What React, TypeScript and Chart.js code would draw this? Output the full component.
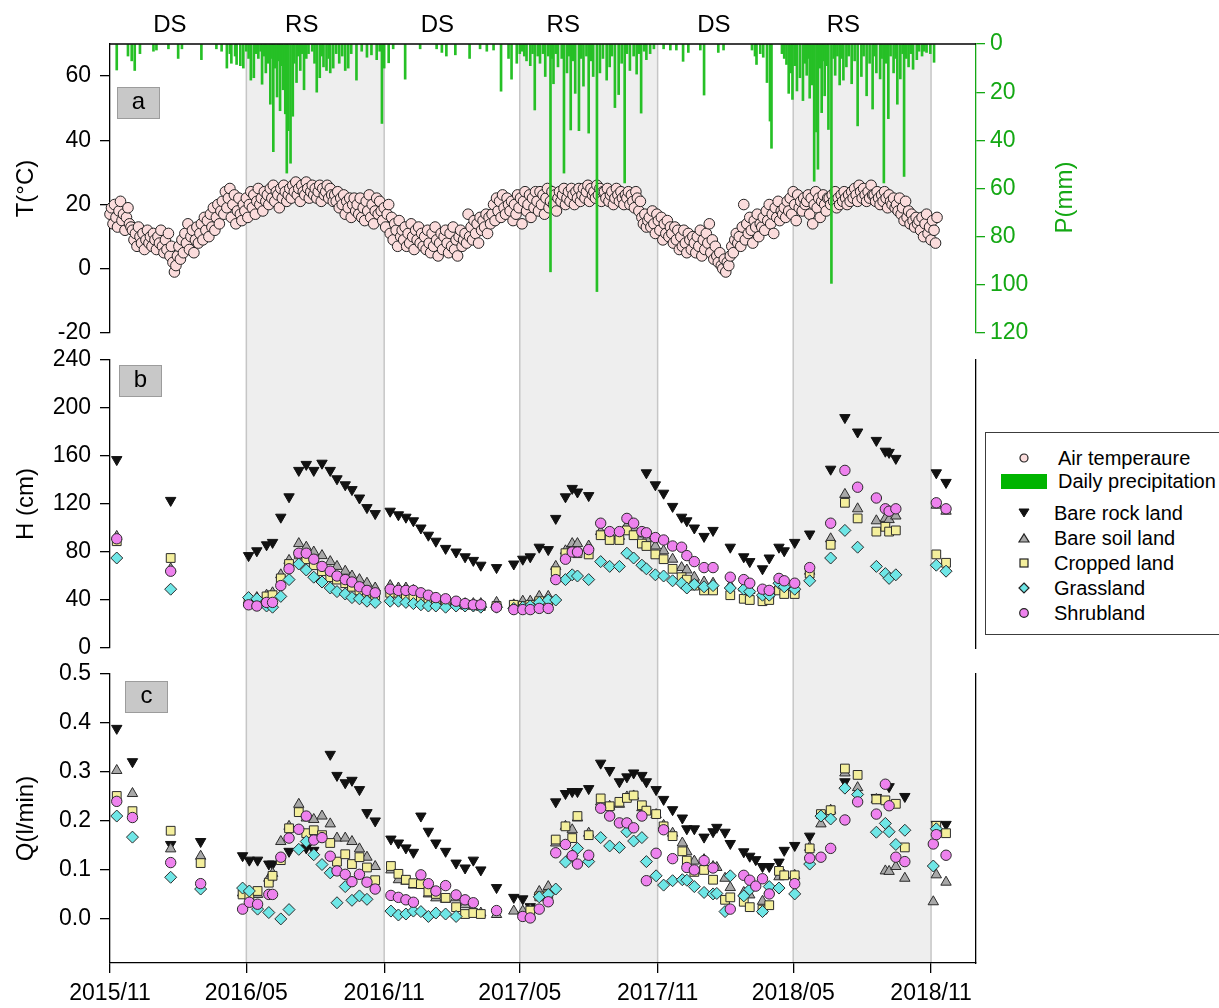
import React, { useEffect, useRef } from "react";
import { Chart, registerables } from "chart.js";

Chart.register(...registerables);

const FONT = "Arial, 'Liberation Sans', Helvetica, sans-serif";

// x values are days counted from 2015-11-01
const xTickDays = [0, 182, 366, 547, 731, 912, 1096];
const xTickLabels = ["2015/11", "2016/05", "2016/11", "2017/05", "2017/11", "2018/05", "2018/11"];
const xMaxDay = 1156;
const rainySeasonSpans: [number, number][] = [[182, 366], [547, 731], [912, 1096]];
const seasonBoundaryDays = [182, 366, 547, 731, 912, 1096];
const seasonLabels = ["DS", "RS", "DS", "RS", "DS", "RS"];
const seasonLabelDays = [80, 256, 437, 605, 806, 979];

const tTicks = [-20, 0, 20, 40, 60];
const pTicks = [0, 20, 40, 60, 80, 100, 120];
const hTicks = [0, 40, 80, 120, 160, 200, 240];
const qTicks = [0, 0.1, 0.2, 0.3, 0.4, 0.5];

// Air temperature (°C), one reading every 2 days from day 0 (each row = 30 days)
const tempStartDay = 0;
const tempStepDays = 2;
const airTemp = [
  17, 19, 14, 20, 16, 13, 18, 21, 15, 17, 12, 16, 19, 14, 13,
  12, 9, 11, 7, 13, 10, 8, 11, 6, 9, 12, 8, 10, 7, 11,
  9, 6, 10, 8, 12, 7, 5, 9, 6, 11, 4, 7, 2, -1, 1,
  4, 7, 3, 9, 5, 11, 8, 14, 6, 10, 12, 5, 9, 13, 8,
  11, 14, 9, 16, 12, 15, 10, 17, 13, 19, 12, 16, 20, 14, 18,
  21, 17, 24, 19, 22, 25, 16, 20, 23, 14, 18, 22, 17, 15, 20,
  18, 22, 16, 20, 24, 19, 23, 17, 21, 25, 20, 22, 18, 24, 21,
  23, 20, 25, 22, 26, 21, 24, 23, 19, 25, 22, 26, 24, 21, 23,
  25, 22, 26, 24, 27, 23, 25, 21, 26, 24, 23, 27, 25, 22, 24,
  26, 23, 25, 22, 24, 26, 21, 25, 23, 24, 26, 22, 25, 23, 21,
  23, 21, 24, 19, 22, 20, 23, 17, 21, 19, 22, 16, 20, 22, 18,
  20, 17, 22, 16, 19, 15, 21, 18, 23, 16, 20, 14, 18, 22, 17,
  21, 18, 15, 19, 13, 17, 20, 11, 16, 9, 14, 12, 7, 15, 10,
  12, 9, 13, 7, 11, 8, 14, 10, 6, 12, 9, 13, 8, 11, 7,
  10, 6, 12, 8, 5, 11, 7, 13, 9, 4, 8, 11, 6, 10, 12,
  8, 5, 11, 7, 13, 6, 9, 4, 10, 12, 7, 9, 11, 8, 17,
  10, 13, 9, 15, 11, 14, 8, 16, 12, 15, 13, 17, 11, 16, 14,
  17, 20, 15, 22, 18, 21, 16, 23, 19, 17, 22, 20, 18, 21, 15,
  20, 17, 23, 19, 22, 14, 21, 24, 18, 20, 23, 16, 22, 19, 24,
  21, 18, 24, 20, 23, 17, 22, 25, 19, 21, 24, 20, 23, 18, 22,
  24, 21, 23, 25, 20, 22, 24, 21, 25, 23, 20, 24, 22, 25, 21,
  23, 25, 22, 24, 26, 21, 25, 23, 24, 22, 26, 23, 25, 21, 24,
  24, 22, 25, 21, 23, 24, 20, 22, 25, 23, 21, 24, 22, 20, 23,
  22, 24, 20, 23, 21, 19, 24, 22, 18, 21, 16, 14, 17, 13, 15,
  16, 13, 18, 14, 11, 17, 15, 12, 16, 9, 14, 11, 15, 10, 13,
  11, 8, 13, 9, 12, 6, 10, 7, 12, 8, 5, 11, 9, 6, 10,
  8, 5, 10, 7, 12, 4, 9, 6, 11, 8, 14, 5, 9, 3, 7,
  4, 2, 5, 1, 0, 3, -1, 2, 1, 4, 7, 5, 9, 11, 8,
  10, 7, 13, 20, 9, 14, 11, 16, 12, 8, 15, 13, 17, 10, 14,
  13, 16, 12, 18, 15, 20, 14, 17, 11, 19, 16, 21, 15, 18, 17,
  19, 16, 21, 18, 22, 17, 24, 20, 15, 23, 19, 21, 18, 22, 20,
  21, 23, 17, 22, 14, 20, 24, 19, 22, 16, 21, 23, 20, 18, 22,
  22, 20, 23, 21, 24, 19, 22, 20, 23, 21, 24, 22, 20, 23, 21,
  24, 22, 25, 23, 21, 26, 24, 22, 25, 23, 21, 24, 22, 26, 23,
  23, 21, 24, 22, 20, 23, 21, 24, 22, 19, 23, 21, 20, 22, 19,
  20, 18, 22, 17, 19, 15, 21, 16, 18, 14, 17, 15, 13, 16, 14,
  15, 12, 16, 10, 14, 17, 11, 13, 9, 15, 12, 8, 16,
];

// Daily precipitation: [day, mm]
const precipDaily: [number, number][] = [
  [9, 10.8], [24, 5], [29, 7], [33, 11], [40, 4], [58, 3], [62, 2.5], [78, 2], [91, 6], [96, 2],
  [122, 6.5], [142, 2], [149, 3], [156, 10], [160, 4], [162, 8], [167, 5], [169, 8.5], [174, 9], [178, 10], [182, 3],
  [185, 6], [188, 15], [192, 14], [195, 4], [198, 6], [201, 3], [203, 16.7], [206, 5], [208, 12], [211, 8],
  [214, 25], [216, 6], [218, 44.7], [220, 10], [223, 22], [225, 7], [227, 27.7], [229, 9], [231, 19], [234, 29],
  [236, 53.6], [238, 36], [241, 49.5], [244, 30], [246, 8], [249, 16], [251, 5], [254, 11], [256, 4], [259, 19],
  [262, 6], [265, 4], [270, 3], [273, 8], [276, 20], [280, 14], [283, 5], [285, 9.5], [289, 11], [292, 6],
  [294, 12], [298, 10], [302, 4], [306, 8], [310, 5], [314, 11], [318, 10], [322, 4], [329, 15], [336, 3],
  [343, 5.5], [349, 4.5], [356, 6.5], [360, 3], [363, 33], [366, 10],
  [372, 7.8], [378, 2], [394, 14.6], [414, 2], [436, 2], [443, 3.5], [449, 5], [461, 4.5], [480, 6], [494, 2],
  [503, 3], [512, 2.5], [522, 19.6], [532, 6], [536, 14.6], [543, 8], [547, 4], [550, 3],
  [553, 5], [556, 7], [561, 9], [564, 4], [567, 27.4], [571, 5], [574, 8], [578, 4], [581, 13.5], [585, 5],
  [588, 94.6], [590, 6], [592, 16.5], [595, 4], [598, 9.5], [603, 6], [606, 53.6], [610, 12], [613, 5], [615, 35.7],
  [618, 7], [621, 20.5], [626, 36], [629, 6], [632, 17.5], [636, 5], [639, 37], [642, 7], [645, 13.5], [650, 102.8],
  [654, 12], [658, 6], [663, 15], [667, 9.5], [670, 5], [674, 26.4], [679, 21], [683, 8], [687, 57.7], [690, 4],
  [694, 11], [699, 5], [703, 12.5], [706, 4], [709, 28.7], [713, 3], [716, 6.5], [721, 4], [726, 2],
  [739, 2], [748, 2.5], [756, 2.5], [765, 7.2], [772, 3.5], [788, 2.5], [793, 21.2], [812, 3.5], [819, 2.5],
  [857, 2.5], [861, 5], [863, 8.5], [868, 4], [872, 5.5], [877, 16], [881, 32], [883, 43.3],
  [897, 4], [900, 6], [903, 8.5], [906, 20.5], [909, 12], [911, 23], [914, 9], [917, 19.5], [921, 14], [925, 23.5],
  [928, 8], [930, 13], [932, 6], [934, 22.5], [937, 17], [940, 57], [943, 36.5], [945, 52], [948, 10], [950, 28.5],
  [952, 7], [954, 21.5], [957, 9], [959, 35.5], [963, 99.4], [966, 6], [968, 13], [971, 5], [974, 17], [977, 6],
  [979, 15], [983, 9.5], [986, 5], [990, 16.5], [994, 7], [998, 34], [1003, 13.5], [1006, 5], [1010, 21.5], [1014, 8],
  [1018, 27], [1020, 5], [1023, 12], [1028, 14.5], [1030, 6], [1033, 57.7], [1036, 8], [1039, 31], [1042, 5], [1046, 12],
  [1049, 6], [1051, 25], [1055, 14.5], [1058, 4], [1060, 55], [1063, 6], [1066, 9.5], [1069, 4], [1072, 10.5], [1077, 6.5],
  [1080, 3], [1084, 5], [1087, 3], [1090, 3.5], [1095, 4], [1100, 7.6],
];

// Water level H (cm): [day, value]
const hRock: [number, number][] = [
  [9, 157], [81, 123], [185, 77], [196, 81], [209, 86], [217, 88], [228, 109], [239, 126], [252, 148], [262, 153],
  [272, 148], [283, 154], [294, 148], [303, 141], [314, 136], [323, 132], [333, 125], [343, 117], [354, 112], [374, 114],
  [385, 111], [395, 109], [405, 106], [415, 100], [425, 94], [435, 89], [448, 83], [462, 80], [474, 76], [485, 73],
  [495, 69], [516, 67], [539, 70], [551, 74], [561, 76], [573, 84], [585, 82], [595, 108], [608, 126], [617, 133],
  [624, 130], [639, 127], [716, 146], [728, 136], [739, 129], [751, 118], [763, 109], [770, 106], [780, 100], [793, 93],
  [805, 98], [828, 84], [846, 76], [854, 72], [871, 66], [880, 75], [893, 84], [900, 81], [914, 88], [934, 95],
  [962, 149], [981, 192], [998, 180], [1023, 173], [1035, 164], [1040, 163], [1049, 158], [1103, 146], [1116, 138],
];
const hSoil: [number, number][] = [
  [9, 93], [81, 66], [185, 40], [196, 42], [209, 44], [217, 46], [228, 61], [239, 73], [252, 87], [262, 84],
  [272, 80], [283, 77], [294, 72], [303, 68], [314, 64], [323, 60], [333, 57], [343, 54], [354, 50], [374, 52],
  [385, 50], [395, 50], [405, 48], [415, 45], [425, 43], [435, 41], [448, 39], [462, 38], [474, 37], [485, 37],
  [495, 37], [516, 38], [539, 36], [551, 39], [561, 39], [573, 43], [585, 43], [595, 68], [608, 81], [617, 87],
  [624, 87], [639, 85], [655, 97], [667, 95], [680, 93], [690, 102], [699, 100], [710, 95], [716, 91], [728, 85],
  [739, 81], [751, 74], [763, 67], [770, 65], [780, 59], [793, 55], [805, 54], [828, 52], [846, 50], [854, 48],
  [871, 45], [880, 45], [893, 56], [900, 52], [914, 50], [934, 64], [962, 91], [981, 128], [998, 116], [1023, 106],
  [1035, 108], [1040, 107], [1049, 110], [1103, 119], [1116, 114],
];
const hCrop: [number, number][] = [
  [9, 89], [81, 75], [185, 38], [196, 38], [209, 43], [217, 44], [228, 58], [239, 70], [252, 78], [262, 74],
  [272, 69], [283, 64], [294, 59], [303, 57], [314, 54], [323, 51], [333, 48], [343, 46], [354, 44], [374, 46],
  [385, 46], [395, 43], [405, 43], [415, 42], [425, 41], [435, 39], [448, 38], [462, 37], [474, 36], [485, 36],
  [495, 35], [516, 35], [539, 36], [551, 35], [561, 36], [573, 39], [585, 39], [595, 64], [608, 79], [617, 80],
  [624, 79], [639, 78], [655, 94], [667, 90], [680, 90], [690, 98], [699, 94], [710, 87], [716, 85], [728, 78],
  [739, 74], [751, 66], [763, 59], [770, 57], [780, 52], [793, 48], [805, 48], [828, 44], [846, 41], [854, 40],
  [871, 39], [880, 40], [893, 48], [900, 45], [914, 45], [934, 62], [962, 86], [981, 121], [998, 108], [1023, 97],
  [1035, 101], [1040, 97], [1049, 98], [1103, 78], [1116, 71],
];
const hGrass: [number, number][] = [
  [9, 75], [81, 49], [185, 42], [196, 41], [209, 35], [217, 34], [228, 43], [239, 57], [252, 70], [262, 65],
  [272, 59], [283, 55], [294, 50], [303, 47], [314, 45], [323, 42], [333, 41], [343, 39], [354, 38], [374, 39],
  [385, 39], [395, 38], [405, 37], [415, 36], [425, 35], [435, 35], [448, 34], [462, 35], [474, 35], [485, 35],
  [495, 34], [516, 34], [539, 33], [551, 34], [561, 35], [573, 38], [585, 40], [595, 40], [608, 57], [617, 61],
  [624, 60], [639, 57], [655, 72], [667, 68], [680, 68], [690, 79], [699, 75], [710, 69], [716, 66], [728, 61],
  [739, 60], [751, 56], [763, 54], [770, 50], [780, 53], [793, 51], [805, 52], [828, 50], [846, 49], [854, 47],
  [871, 44], [880, 44], [893, 54], [900, 51], [914, 49], [934, 56], [962, 75], [981, 98], [998, 84], [1023, 68],
  [1035, 62], [1040, 58], [1049, 61], [1103, 69], [1116, 64],
];
const hShrub: [number, number][] = [
  [9, 91], [81, 64], [185, 36], [196, 35], [209, 38], [217, 38], [228, 52], [239, 66], [252, 79], [262, 79],
  [272, 74], [283, 68], [294, 64], [303, 60], [314, 57], [323, 55], [333, 51], [343, 48], [354, 46], [374, 49],
  [385, 48], [395, 48], [405, 48], [415, 46], [425, 44], [435, 42], [448, 41], [462, 39], [474, 37], [485, 36],
  [495, 36], [516, 34], [539, 32], [551, 32], [561, 32], [573, 33], [585, 33], [595, 57], [608, 74], [617, 80],
  [624, 80], [639, 82], [655, 104], [667, 97], [680, 97], [690, 108], [699, 104], [710, 97], [716, 96], [728, 92],
  [739, 90], [751, 85], [763, 84], [770, 77], [780, 72], [793, 67], [805, 67], [828, 59], [846, 57], [854, 54],
  [871, 49], [880, 48], [893, 58], [900, 56], [914, 54], [934, 67], [962, 104], [981, 148], [998, 134], [1023, 125],
  [1035, 116], [1040, 114], [1049, 116], [1103, 121], [1116, 116],
];

// Discharge Q (l/min): [day, value]
const qRock: [number, number][] = [
  [9, 0.389], [30, 0.321], [81, 0.152], [121, 0.158], [177, 0.129], [186, 0.12], [197, 0.12], [212, 0.112], [217, 0.112], [239, 0.138],
  [262, 0.145], [272, 0.14], [294, 0.336], [303, 0.293], [314, 0.278], [323, 0.283], [333, 0.264], [343, 0.217], [354, 0.2], [375, 0.163],
  [385, 0.155], [395, 0.145], [405, 0.136], [415, 0.21], [425, 0.179], [435, 0.155], [448, 0.138], [462, 0.114], [474, 0.104], [485, 0.12],
  [495, 0.1], [516, 0.064], [539, 0.044], [551, 0.041], [561, 0.025], [595, 0.239], [608, 0.256], [617, 0.26], [624, 0.26], [639, 0.266],
  [655, 0.318], [667, 0.303], [680, 0.28], [690, 0.29], [699, 0.298], [710, 0.293], [716, 0.28], [729, 0.264], [739, 0.244], [751, 0.223],
  [764, 0.206], [770, 0.184], [780, 0.184], [793, 0.167], [805, 0.178], [810, 0.187], [821, 0.177], [828, 0.154], [846, 0.137], [854, 0.128],
  [862, 0.121], [871, 0.107], [880, 0.107], [893, 0.116], [900, 0.14], [914, 0.15], [934, 0.169], [981, 0.28], [1023, 0.248], [1040, 0.27],
  [1061, 0.25], [1103, 0.193], [1116, 0.193],
];
const qSoil: [number, number][] = [
  [9, 0.303], [30, 0.256], [81, 0.143], [121, 0.128], [177, 0.053], [186, 0.05], [197, 0.05], [212, 0.083], [217, 0.093], [228, 0.158],
  [239, 0.189], [252, 0.234], [262, 0.206], [272, 0.203], [283, 0.21], [294, 0.194], [303, 0.165], [314, 0.165], [323, 0.158], [333, 0.143],
  [343, 0.126], [354, 0.107], [375, 0.1], [385, 0.08], [395, 0.077], [405, 0.069], [415, 0.069], [425, 0.051], [435, 0.043], [448, 0.04],
  [462, 0.043], [474, 0.029], [485, 0.019], [495, 0.012], [516, 0.009], [539, 0.016], [551, 0.016], [561, 0.019], [573, 0.056], [585, 0.066],
  [595, 0.155], [608, 0.189], [617, 0.182], [624, 0.206], [639, 0.175], [655, 0.239], [667, 0.23], [680, 0.234], [690, 0.249], [699, 0.251],
  [710, 0.227], [716, 0.22], [729, 0.213], [739, 0.191], [751, 0.175], [764, 0.155], [770, 0.137], [780, 0.118], [793, 0.121], [805, 0.107],
  [810, 0.105], [821, 0.083], [828, 0.064], [846, 0.054], [854, 0.049], [871, 0.036], [880, 0.058], [893, 0.086], [900, 0.089], [914, 0.089],
  [934, 0.146], [949, 0.194], [962, 0.222], [981, 0.298], [998, 0.268], [1023, 0.244], [1035, 0.098], [1040, 0.097], [1049, 0.107], [1061, 0.083],
  [1099, 0.035], [1103, 0.09], [1116, 0.075],
];
const qCrop: [number, number][] = [
  [9, 0.251], [30, 0.22], [81, 0.18], [121, 0.114], [177, 0.05], [186, 0.048], [197, 0.057], [212, 0.074], [217, 0.088], [228, 0.12],
  [239, 0.185], [252, 0.218], [262, 0.175], [272, 0.181], [283, 0.171], [294, 0.155], [303, 0.117], [314, 0.132], [323, 0.112], [333, 0.126],
  [343, 0.105], [354, 0.079], [375, 0.108], [385, 0.092], [395, 0.08], [405, 0.073], [415, 0.071], [425, 0.056], [435, 0.051], [448, 0.043],
  [462, 0.024], [474, 0.01], [485, 0.012], [495, 0.01], [561, 0.017], [573, 0.046], [585, 0.05], [595, 0.162], [608, 0.189], [617, 0.165],
  [624, 0.21], [639, 0.171], [655, 0.246], [667, 0.23], [680, 0.239], [690, 0.247], [699, 0.252], [710, 0.232], [716, 0.221], [729, 0.214],
  [739, 0.189], [751, 0.169], [764, 0.138], [770, 0.119], [780, 0.096], [793, 0.1], [805, 0.08], [821, 0.039], [828, 0.044], [846, 0.035],
  [854, 0.024], [871, 0.019], [880, 0.028], [893, 0.098], [900, 0.089], [914, 0.089], [934, 0.144], [949, 0.214], [962, 0.222], [981, 0.307],
  [998, 0.294], [1023, 0.244], [1035, 0.242], [1049, 0.235], [1061, 0.146], [1103, 0.19], [1116, 0.175],
];
const qGrass: [number, number][] = [
  [9, 0.21], [30, 0.167], [81, 0.085], [121, 0.061], [177, 0.063], [186, 0.057], [197, 0.02], [212, 0.013], [228, 0.0], [239, 0.019],
  [252, 0.142], [262, 0.158], [272, 0.131], [283, 0.111], [294, 0.094], [303, 0.033], [314, 0.066], [323, 0.038], [333, 0.047], [343, 0.04],
  [375, 0.016], [385, 0.008], [395, 0.01], [405, 0.016], [415, 0.015], [425, 0.005], [435, 0.012], [448, 0.01], [462, 0.005], [573, 0.045],
  [585, 0.05], [595, 0.061], [608, 0.116], [617, 0.129], [624, 0.144], [639, 0.117], [655, 0.166], [667, 0.149], [680, 0.146], [690, 0.178],
  [699, 0.159], [710, 0.166], [716, 0.117], [729, 0.088], [739, 0.069], [751, 0.078], [764, 0.08], [770, 0.079], [780, 0.066], [793, 0.054],
  [805, 0.051], [810, 0.052], [821, 0.015], [828, 0.088], [846, 0.047], [854, 0.06], [871, 0.015], [880, 0.066], [893, 0.063], [914, 0.051],
  [934, 0.112], [949, 0.21], [962, 0.204], [981, 0.267], [998, 0.254], [1023, 0.177], [1035, 0.195], [1040, 0.178], [1049, 0.152], [1061, 0.181],
  [1099, 0.108], [1103, 0.184],
];
const qShrub: [number, number][] = [
  [9, 0.24], [30, 0.207], [81, 0.115], [121, 0.072], [177, 0.02], [186, 0.034], [197, 0.03], [212, 0.05], [217, 0.05], [228, 0.126],
  [239, 0.165], [252, 0.183], [262, 0.21], [272, 0.161], [283, 0.166], [294, 0.128], [303, 0.098], [314, 0.091], [323, 0.076], [333, 0.091],
  [343, 0.075], [354, 0.061], [375, 0.048], [385, 0.044], [395, 0.039], [405, 0.034], [415, 0.09], [425, 0.072], [435, 0.057], [448, 0.068],
  [462, 0.049], [474, 0.039], [485, 0.033], [516, 0.017], [551, 0.005], [561, 0.002], [573, 0.02], [585, 0.035], [595, 0.135], [608, 0.152],
  [617, 0.129], [624, 0.112], [639, 0.13], [655, 0.226], [667, 0.21], [680, 0.196], [690, 0.196], [699, 0.186], [710, 0.21], [716, 0.078],
  [729, 0.134], [739, 0.182], [751, 0.123], [770, 0.105], [780, 0.1], [793, 0.119], [805, 0.104], [828, 0.02], [846, 0.089], [854, 0.079],
  [862, 0.067], [871, 0.082], [880, 0.051], [914, 0.072], [934, 0.124], [949, 0.126], [962, 0.144], [981, 0.202], [998, 0.239], [1023, 0.214],
  [1035, 0.275], [1040, 0.231], [1049, 0.126], [1061, 0.117], [1099, 0.153], [1103, 0.172], [1116, 0.13],
];

// ---------------- styles ----------------
const GREEN_BAR = "#26c026";
const GREEN_AXIS = "#14a814";
const EDGE = "#2b2b2b";
const seriesStyle = {
  rock: { pointStyle: "triangle", rotation: 180, radius: 6, bg: "#111111", border: "#111111" },
  soil: { pointStyle: "triangle", rotation: 0, radius: 6, bg: "#a8a8a8", border: EDGE },
  crop: { pointStyle: "rect", rotation: 0, radius: 6.2, bg: "#f4ef9c", border: EDGE },
  grass: { pointStyle: "rectRot", rotation: 0, radius: 6, bg: "#6ee6e6", border: EDGE },
  shrub: { pointStyle: "circle", rotation: 0, radius: 5.2, bg: "#ee82ee", border: EDGE },
};

const toXY = (pairs: [number, number][]) => pairs.map(([x, y]) => ({ x, y }));

function markerDataset(label: string, pairs: [number, number][], axis: string, st: any) {
  return {
    type: "scatter",
    label,
    data: toXY(pairs),
    yAxisID: axis,
    pointStyle: st.pointStyle,
    rotation: st.rotation,
    pointRadius: st.radius,
    pointBackgroundColor: st.bg,
    pointBorderColor: st.border,
    pointBorderWidth: 1,
    showLine: false,
    clip: false,
  };
}

const tickFont = { family: FONT, size: 23 };

function fixedTicks(values: number[]) {
  return (scale: any) => {
    scale.ticks = values.map((v) => ({ value: v }));
  };
}

function leftAxis(weight: number, stackWeight: number, min: number, max: number, ticks: number[], title: string, fmt: (v: number) => string) {
  return {
    type: "linear",
    axis: "y",
    position: "left",
    stack: "L",
    stackWeight,
    weight,
    min,
    max,
    afterBuildTicks: fixedTicks(ticks),
    afterFit: (s: any) => { s.width = 110; },
    ticks: { autoSkip: false, font: tickFont, color: "#000", padding: 9, callback: (v: any) => fmt(Number(v)) },
    grid: { display: true, drawOnChartArea: false, drawTicks: true, tickLength: 10, color: "#000", lineWidth: 1.3 },
    border: { display: true, color: "#000", width: 1.3 },
    title: { display: true, text: title, font: { family: FONT, size: 24 }, color: "#000", padding: { top: 12, bottom: 0 } },
  };
}

function spacer(position: string, stack: string, weight: number, stackWeight: number) {
  return { type: "linear", axis: "y", position, stack, stackWeight, weight, display: false };
}

function rightFrame(weight: number, stackWeight: number) {
  return {
    type: "linear",
    axis: "y",
    position: "right",
    stack: "R",
    stackWeight,
    weight,
    min: 0,
    max: 1,
    ticks: { display: false },
    grid: { display: false, drawTicks: false },
    border: { display: true, color: "#000", width: 1.3 },
  };
}

const decorPlugin = {
  id: "decor",
  beforeDraw(chart: any) {
    const { ctx, chartArea: a, scales } = chart;
    const x = scales.x;
    ctx.save();
    ctx.fillStyle = "#eeeeee";
    for (const [s, e] of rainySeasonSpans) {
      const x0 = x.getPixelForValue(s);
      const x1 = x.getPixelForValue(e);
      ctx.fillRect(x0, a.top, x1 - x0, a.bottom - a.top);
    }
    ctx.strokeStyle = "#c6c6c6";
    ctx.lineWidth = 1.5;
    for (const d of seasonBoundaryDays) {
      const px = x.getPixelForValue(d);
      ctx.beginPath();
      ctx.moveTo(px, a.top);
      ctx.lineTo(px, a.bottom);
      ctx.stroke();
    }
    ctx.restore();
  },
  afterDraw(chart: any) {
    const { ctx, chartArea: a, scales } = chart;
    const x = scales.x;
    ctx.save();
    // top frame of panel a
    ctx.strokeStyle = "#000";
    ctx.lineWidth = 1.3;
    ctx.beginPath();
    ctx.moveTo(a.left, a.top);
    ctx.lineTo(a.right, a.top);
    ctx.stroke();

    // season labels
    ctx.fillStyle = "#000";
    ctx.font = `24px ${FONT}`;
    ctx.textAlign = "center";
    ctx.textBaseline = "middle";
    seasonLabels.forEach((lab, i) => {
      ctx.fillText(lab, x.getPixelForValue(seasonLabelDays[i]), a.top - 19);
    });

    // panel tags
    const tags: [string, any, number, number][] = [
      ["a", scales.yT, 7, 43],
      ["b", scales.yH, 9, 5],
      ["c", scales.yQ, 15, 7],
    ];
    for (const [t, sc, dx, dy] of tags) {
      const bx = a.left + dx;
      const by = sc.top + dy;
      ctx.fillStyle = "#c8c8c8";
      ctx.fillRect(bx, by, 43, 32);
      ctx.strokeStyle = "#9c9c9c";
      ctx.lineWidth = 1;
      ctx.strokeRect(bx + 0.5, by + 0.5, 42, 31);
      ctx.fillStyle = "#000";
      ctx.font = `24px ${FONT}`;
      ctx.fillText(t, bx + 21.5, by + 15);
    }

    // precipitation axis title
    const p = scales.yP;
    ctx.save();
    ctx.translate(p.left + 89, (p.top + p.bottom) / 2 + 9);
    ctx.rotate(-Math.PI / 2);
    ctx.fillStyle = GREEN_AXIS;
    ctx.font = `24px ${FONT}`;
    ctx.fillText("P(mm)", 0, 0);
    ctx.restore();
    ctx.restore();
  },
};

function buildConfig(): any {
  const datasets: any[] = [
    {
      type: "bar",
      label: "Daily precipitation",
      data: toXY(precipDaily),
      yAxisID: "yP",
      xAxisID: "x",
      backgroundColor: GREEN_BAR,
      borderWidth: 0,
      barThickness: 2,
      grouped: false,
    },
    markerDataset("Shrubland", hShrub, "yH", seriesStyle.shrub),
    markerDataset("Grassland", hGrass, "yH", seriesStyle.grass),
    markerDataset("Cropped land", hCrop, "yH", seriesStyle.crop),
    markerDataset("Bare soil land", hSoil, "yH", seriesStyle.soil),
    markerDataset("Bare rock land", hRock, "yH", seriesStyle.rock),
    markerDataset("Shrubland", qShrub, "yQ", seriesStyle.shrub),
    markerDataset("Grassland", qGrass, "yQ", seriesStyle.grass),
    markerDataset("Cropped land", qCrop, "yQ", seriesStyle.crop),
    markerDataset("Bare soil land", qSoil, "yQ", seriesStyle.soil),
    markerDataset("Bare rock land", qRock, "yQ", seriesStyle.rock),
    {
      type: "scatter",
      label: "Air temperaure",
      data: airTemp.map((v, i) => ({ x: tempStartDay + i * tempStepDays, y: v })),
      yAxisID: "yT",
      pointStyle: "circle",
      pointRadius: 5.3,
      pointBackgroundColor: "#fbdcdc",
      pointBorderColor: "#222",
      pointBorderWidth: 1,
      showLine: false,
      clip: false,
    },
  ];

  return {
    type: "scatter",
    data: { datasets },
    plugins: [decorPlugin],
    options: {
      responsive: false,
      animation: false,
      devicePixelRatio: 1,
      events: [],
      layout: { padding: { top: 44, left: 0, right: 0, bottom: 0 } },
      plugins: { legend: { display: false }, tooltip: { enabled: false } },
      scales: {
        x: {
          type: "linear",
          position: "bottom",
          min: 0,
          max: xMaxDay,
          offset: false,
          afterBuildTicks: fixedTicks(xTickDays),
          afterFit: (s: any) => { s.height = 45; },
          ticks: {
            autoSkip: false,
            maxRotation: 0,
            font: tickFont,
            color: "#000",
            padding: 7,
            callback: (v: any) => {
              const i = xTickDays.indexOf(Number(v));
              return i >= 0 ? xTickLabels[i] : "";
            },
          },
          grid: { display: true, offset: false, drawOnChartArea: false, drawTicks: true, tickLength: 10, color: "#000", lineWidth: 1.3 },
          border: { display: true, color: "#000", width: 1.3 },
        },
        yT: leftAxis(5, 289, -20, 70, tTicks, "T(°C)", (v) => String(v)),
        gL1: spacer("left", "L", 4, 27),
        yH: leftAxis(3, 288, 0, 240, hTicks, "H (cm)", (v) => String(v)),
        gL2: spacer("left", "L", 2, 26),
        yQ: leftAxis(1, 289, -0.09, 0.5, qTicks, "Q(l/min)", (v) => v.toFixed(1)),
        yP: {
          type: "linear",
          axis: "y",
          position: "right",
          stack: "R",
          stackWeight: 289,
          weight: 1,
          min: 0,
          max: 120,
          reverse: true,
          beginAtZero: true,
          afterBuildTicks: fixedTicks(pTicks),
          afterFit: (s: any) => { s.width = 243; },
          ticks: { autoSkip: false, font: tickFont, color: GREEN_AXIS, padding: 5, callback: (v: any) => String(v) },
          grid: { display: true, drawOnChartArea: false, drawTicks: true, tickLength: 9, color: GREEN_AXIS, lineWidth: 1.3 },
          border: { display: true, color: GREEN_AXIS, width: 1.3 },
        },
        gR1: spacer("right", "R", 2, 27),
        yHr: rightFrame(3, 288),
        gR2: spacer("right", "R", 4, 26),
        yQr: rightFrame(5, 289),
      },
    },
  };
}

// ---------------- legend ----------------
const legendLabels = [
  "Air temperaure",
  "Daily precipitation",
  "Bare rock land",
  "Bare soil land",
  "Cropped land",
  "Grassland",
  "Shrubland",
];
const legendKinds = ["temp", "precip", "rock", "soil", "crop", "grass", "shrub"];
const legendRowY = [25, 48, 80, 105, 130, 155, 180];
const legendTextX = [72, 72, 68, 68, 68, 68, 68];

function LegendMarker({ kind }: { kind: string }) {
  if (kind === "precip") {
    return <div style={{ position: "absolute", left: 15, top: -7, width: 46, height: 15, background: "#00b400" }} />;
  }
  let shape: any = null;
  if (kind === "temp") shape = <circle cx={10} cy={10} r={4} fill="#fbdcdc" stroke="#222" strokeWidth={1.2} />;
  if (kind === "rock") shape = <polygon points="5,6 15,6 10,14" fill="#111" stroke="#111" strokeWidth={1} />;
  if (kind === "soil") shape = <polygon points="5,14 15,14 10,6" fill="#a8a8a8" stroke="#222" strokeWidth={1.2} />;
  if (kind === "crop") shape = <rect x={6} y={6} width={8} height={8} fill="#f4ef9c" stroke="#222" strokeWidth={1.2} />;
  if (kind === "grass") shape = <polygon points="10,5 15,10 10,15 5,10" fill="#6ee6e6" stroke="#222" strokeWidth={1.2} />;
  if (kind === "shrub") shape = <circle cx={10} cy={10} r={4.3} fill="#ee82ee" stroke="#222" strokeWidth={1.2} />;
  return (
    <svg width={20} height={20} style={{ position: "absolute", left: 28, top: -10 }}>
      {shape}
    </svg>
  );
}

function Legend() {
  return (
    <div
      style={{
        position: "absolute",
        left: 985,
        top: 432,
        width: 260,
        height: 203,
        boxSizing: "border-box",
        border: "1.5px solid #3c3c3c",
        background: "#fff",
        fontFamily: FONT,
        fontSize: 20,
        color: "#000",
      }}
    >
      {legendLabels.map((lab, i) => (
        <div key={lab} style={{ position: "absolute", left: 0, top: legendRowY[i], width: "100%", height: 0 }}>
          <LegendMarker kind={legendKinds[i]} />
          <div style={{ position: "absolute", left: legendTextX[i], top: -12, lineHeight: "24px", whiteSpace: "nowrap" }}>{lab}</div>
        </div>
      ))}
    </div>
  );
}

export default function App() {
  const ref = useRef<HTMLCanvasElement>(null);
  useEffect(() => {
    const canvas = ref.current;
    if (!canvas) return;
    const chart = new Chart(canvas, buildConfig());
    return () => chart.destroy();
  }, []);
  return (
    <div style={{ position: "fixed", left: 0, top: 0, width: 1219, height: 1008, overflow: "hidden", background: "#fff" }}>
      <canvas ref={ref} width={1219} height={1008} style={{ position: "absolute", left: 0, top: 0, width: 1219, height: 1008 }} />
      <Legend />
    </div>
  );
}
